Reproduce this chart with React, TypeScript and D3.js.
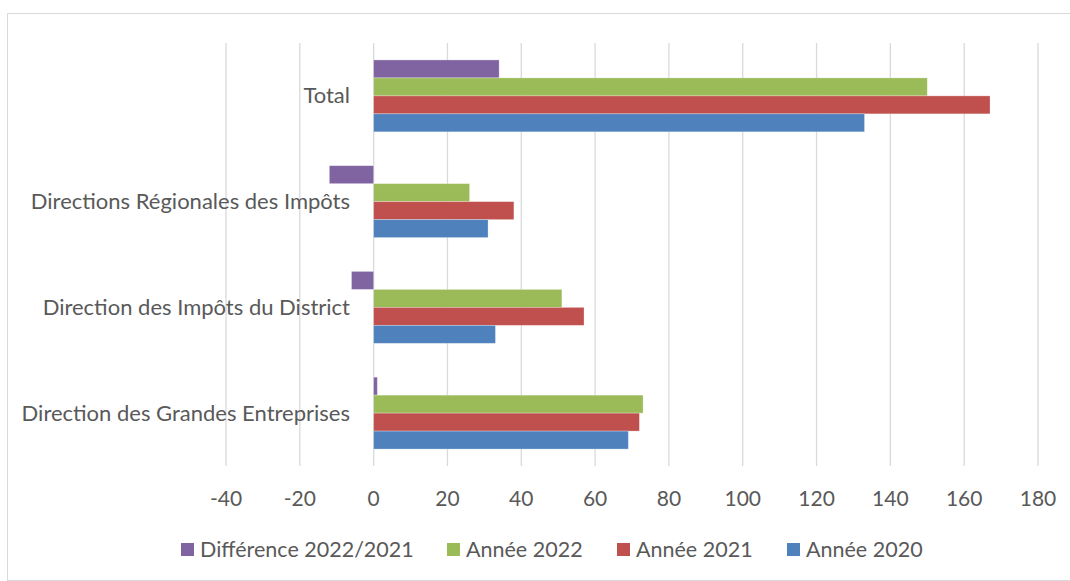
import { useEffect, useRef } from "react";
import * as d3 from "d3";

const categories = [
  "Total",
  "Directions Régionales des Impôts",
  "Direction des Impôts du District",
  "Direction des Grandes Entreprises",
];
// series listed top-to-bottom within each group
const seriesNames = ["Différence 2022/2021", "Année 2022", "Année 2021", "Année 2020"];
const diff = [34, -12, -6, 1];
const annee2022 = [150, 26, 51, 73];
const annee2021 = [167, 38, 57, 72];
const annee2020 = [133, 31, 33, 69];
const xTicks = [-40, -20, 0, 20, 40, 60, 80, 100, 120, 140, 160, 180];
// legend order is left-to-right
const legendOrder = ["Différence 2022/2021", "Année 2022", "Année 2021", "Année 2020"];

const colors: Record<string, string> = {
  "Différence 2022/2021": "#8064A2",
  "Année 2022": "#9BBB59",
  "Année 2021": "#C0504D",
  "Année 2020": "#4F81BD",
};

const App = () => {
  const svgRef = useRef<SVGSVGElement>(null);

  useEffect(() => {
    if (!svgRef.current) return;
    const svg = d3.select(svgRef.current);
    svg.selectAll("*").remove();

    const w = 1070;
    const h = 581;
    const font = "Lato, Open Sans, sans-serif";
    const textColor = "#595959";

    svg.attr("width", w).attr("height", h);

    // outer chart frame (right edge falls outside the picture)
    svg
      .append("rect")
      .attr("x", 7.5)
      .attr("y", 13.5)
      .attr("width", w + 20)
      .attr("height", 567)
      .attr("fill", "white")
      .attr("stroke", "#d9d9d9")
      .attr("stroke-width", 1);

    const values = [diff, annee2022, annee2021, annee2020];

    const xScale = d3.scaleLinear().domain([-40, 180]).range([226, 1038]);
    const yScale = d3
      .scaleBand()
      .domain(categories)
      .range([43, 466])
      .paddingInner(0.32)
      .paddingOuter(0.16);
    const inner = d3
      .scaleBand()
      .domain(seriesNames)
      .range([0, yScale.bandwidth()]);

    // gridlines
    svg
      .append("g")
      .selectAll("line")
      .data(xTicks)
      .join("line")
      .attr("x1", (d) => xScale(d))
      .attr("x2", (d) => xScale(d))
      .attr("y1", 43)
      .attr("y2", 466)
      .attr("stroke", "#d9d9d9")
      .attr("stroke-width", 1.3);

    // bars
    seriesNames.forEach((s, si) => {
      svg
        .append("g")
        .selectAll("rect")
        .data(categories)
        .join("rect")
        .attr("x", (_, i) => xScale(Math.min(0, values[si][i])))
        .attr("width", (_, i) => Math.abs(xScale(values[si][i]) - xScale(0)))
        .attr("y", (c) => (yScale(c) as number) + (inner(s) as number))
        .attr("height", inner.bandwidth())
        .attr("fill", colors[s])
        .attr("stroke", "white")
        .attr("stroke-opacity", 0.35)
        .attr("stroke-width", 0.8);
    });

    // x tick labels
    svg
      .append("g")
      .selectAll("text")
      .data(xTicks)
      .join("text")
      .attr("x", (d) => xScale(d))
      .attr("y", 497)
      .attr("text-anchor", "middle")
      .attr("dominant-baseline", "central")
      .attr("font-family", font)
      .attr("font-size", 21)
      .attr("fill", textColor)
      .text((d) => d);

    // category labels
    svg
      .append("g")
      .selectAll("text")
      .data(categories)
      .join("text")
      .attr("x", 350)
      .attr("y", (c) => (yScale(c) as number) + yScale.bandwidth() / 2 - 1)
      .attr("text-anchor", "end")
      .attr("dominant-baseline", "central")
      .attr("font-family", font)
      .attr("font-size", 22)
      .attr("fill", textColor)
      .text((c) => c);

    // legend
    const legendX = [181, 447, 617, 787];
    const legend = svg
      .append("g")
      .selectAll("g")
      .data(legendOrder)
      .join("g")
      .attr("transform", (_, i) => `translate(${legendX[i]},550)`);
    legend
      .append("rect")
      .attr("x", 0)
      .attr("y", -7)
      .attr("width", 13)
      .attr("height", 13)
      .attr("fill", (d) => colors[d]);
    legend
      .append("text")
      .attr("x", 19)
      .attr("y", -1)
      .attr("dominant-baseline", "central")
      .attr("font-family", font)
      .attr("font-size", 21.5)
      .attr("fill", textColor)
      .text((d) => d);
  }, []);

  return (
    <svg
      ref={svgRef}
      style={{ position: "absolute", left: 0, top: 0, display: "block" }}
    />
  );
};

export default App;
